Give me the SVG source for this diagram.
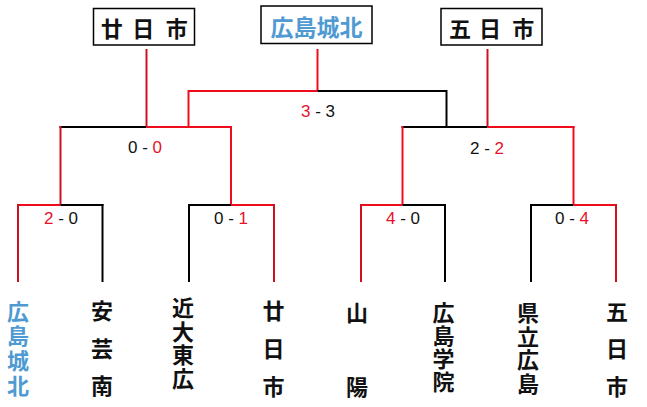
<svg xmlns="http://www.w3.org/2000/svg" width="647" height="407" viewBox="0 0 647 407">
<style>
.bg{fill:#fff}
.box{fill:#fff;stroke:#000;stroke-width:1.5}
.r{stroke:#f00c1c;stroke-width:2;fill:none}
.rv{stroke:#cc1222;stroke-width:2;fill:none}
.k{stroke:#000;stroke-width:2;fill:none}
.jp{font-family:"Noto Sans CJK JP","Noto Sans CJK SC",sans-serif;font-weight:700;font-size:22px;text-anchor:middle;dominant-baseline:central;fill:#111}
.blue{fill:#4f9ad2}
.sc{font-family:"Liberation Sans",Arial,sans-serif;font-size:17px;text-anchor:middle;dominant-baseline:central;fill:#111}
.red{fill:#e8102a}
</style>
<rect class="bg" x="0" y="0" width="647" height="407"/>
<g id="connectors">
  <line class="rv" x1="146.5" y1="49" x2="146.5" y2="127"/>
  <line class="r" x1="317.5" y1="49" x2="317.5" y2="91"/>
  <line class="rv" x1="487.5" y1="49" x2="487.5" y2="127"/>
  <line class="r" x1="188.5" y1="91" x2="317.5" y2="91"/>
  <line class="k" x1="317.5" y1="91" x2="447" y2="91"/>
  <line class="r" x1="188.5" y1="90" x2="188.5" y2="127"/>
  <line class="k" x1="446.5" y1="90" x2="446.5" y2="127"/>
  <line class="k" x1="59.5" y1="127" x2="146.5" y2="127"/>
  <line class="r" x1="146.5" y1="127" x2="232" y2="127"/>
  <line class="rv" x1="60.5" y1="126" x2="60.5" y2="205"/>
  <line class="r" x1="231" y1="126" x2="231" y2="205"/>
  <line class="k" x1="401.5" y1="127" x2="487.5" y2="127"/>
  <line class="r" x1="487.5" y1="127" x2="574.5" y2="127"/>
  <line class="r" x1="402.5" y1="126" x2="402.5" y2="205"/>
  <line class="r" x1="573.5" y1="126" x2="573.5" y2="205"/>
  <line class="r" x1="17" y1="205" x2="60.5" y2="205"/>
  <line class="k" x1="60.5" y1="205" x2="103.5" y2="205"/>
  <line class="rv" x1="18" y1="204" x2="18" y2="282"/>
  <line class="k" x1="102.5" y1="204" x2="102.5" y2="282"/>
  <line class="k" x1="188" y1="205" x2="231" y2="205"/>
  <line class="r" x1="231" y1="205" x2="275" y2="205"/>
  <line class="k" x1="189" y1="204" x2="189" y2="282"/>
  <line class="rv" x1="274" y1="204" x2="274" y2="282"/>
  <line class="r" x1="360" y1="205" x2="402.5" y2="205"/>
  <line class="k" x1="402.5" y1="205" x2="446" y2="205"/>
  <line class="rv" x1="361" y1="204" x2="361" y2="282"/>
  <line class="k" x1="445" y1="204" x2="445" y2="282"/>
  <line class="k" x1="530" y1="205" x2="573.5" y2="205"/>
  <line class="r" x1="573.5" y1="205" x2="617" y2="205"/>
  <line class="k" x1="531" y1="204" x2="531" y2="282"/>
  <line class="rv" x1="616" y1="204" x2="616" y2="282"/>
</g>
<g id="scores">
  <text class="sc" x="318" y="111"><tspan class="red">3</tspan> - 3</text>
  <text class="sc" x="145" y="147">0 - <tspan class="red">0</tspan></text>
  <text class="sc" x="487" y="148">2 - <tspan class="red">2</tspan></text>
  <text class="sc" x="61" y="218"><tspan class="red">2</tspan> - 0</text>
  <text class="sc" x="231" y="218">0 - <tspan class="red">1</tspan></text>
  <text class="sc" x="403" y="218"><tspan class="red">4</tspan> - 0</text>
  <text class="sc" x="572" y="218">0 - <tspan class="red">4</tspan></text>
</g>
<g id="top-hatsukaichi">
  <rect class="box" x="93.5" y="8.5" width="101" height="36.5"/>
  <text class="jp" x="111.7 127.5 143.3 160 176.7" y="27">廿 日 市</text>
</g>
<g id="top-hiroshimajohoku">
  <rect class="box" x="261" y="6" width="111" height="37.5"/>
  <text class="jp blue" x="316.5" y="25.5" style="font-size:23px">広島城北</text>
</g>
<g id="top-itsukaichi">
  <rect class="box" x="441" y="8.5" width="101" height="36.5"/>
  <text class="jp" x="460 475 490 506.5 523.3" y="27">五 日 市</text>
</g>
<g id="team-hiroshimajohoku">
  <text class="jp blue" x="18 18 18 18" y="310 334 359 384">広島城北</text>
</g>
<g id="team-akiminami">
  <text class="jp" x="102 102 102" y="309 347 384">安芸南</text>
</g>
<g id="team-kindaitohiro">
  <text class="jp" x="183 183 183 183" y="306 330 353 377">近大東広</text>
</g>
<g id="team-hatsukaichi">
  <text class="jp" x="273.5 273.5 273.5" y="309 347 385">廿日市</text>
</g>
<g id="team-sanyo">
  <text class="jp" x="357 357" y="311 385">山陽</text>
</g>
<g id="team-hiroshimagakuin">
  <text class="jp" x="443.5 443.5 443.5 443.5" y="311 334 357 380">広島学院</text>
</g>
<g id="team-kenritsuhiroshima">
  <text class="jp" x="528 528 528 528" y="311 335 358 382">県立広島</text>
</g>
<g id="team-itsukaichi">
  <text class="jp" x="617 617 617" y="310 347 385">五日市</text>
</g>
</svg>
